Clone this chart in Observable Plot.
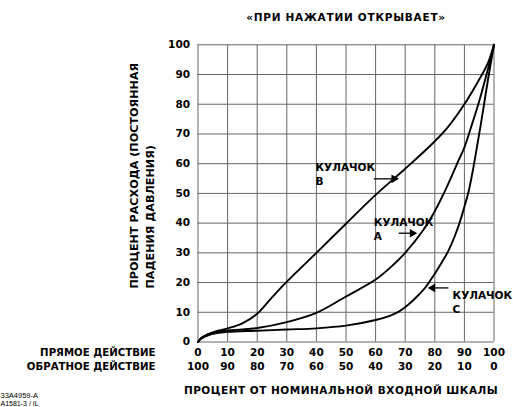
<!DOCTYPE html>
<html>
<head>
<meta charset="utf-8">
<script src="https://cdn.jsdelivr.net/npm/d3@7"></script>
<script src="https://cdn.jsdelivr.net/npm/@observablehq/plot@0.6"></script>
<style>
  body { margin: 0; background: white; }
</style>
</head>
<body>
<div id="chart"></div>
<script>
// ---- data ----
const camBx = [0, 1, 3, 6, 10, 15, 20, 25, 30, 40, 50, 60, 70, 78, 84, 90, 95, 98, 100];
const camBy = [0, 1.3, 2.5, 3.6, 4.6, 6.3, 9.5, 15, 20.3, 30, 39.8, 49.5, 58.3, 65.6, 71.8, 80, 88.3, 94, 100];

const camAx = [0, 1, 3, 6, 10, 15, 20, 30, 40, 50, 60, 66, 70, 76, 80, 84, 88, 90, 92, 95, 98, 100];
const camAy = [0, 1.2, 2.3, 3.3, 3.9, 4.2, 4.7, 6.7, 9.8, 15.3, 21, 26, 30, 37.5, 44, 52, 61, 65.5, 71.5, 81, 92, 100];

const camCx = [0, 1, 3, 6, 10, 20, 30, 40, 50, 60, 65, 68, 71, 74, 77, 80, 82.5, 84.5, 86.5, 88.5, 90, 91.5, 93, 94.3, 95.5, 96.8, 98, 100];
const camCy = [0, 1.1, 2.1, 2.9, 3.4, 3.8, 4.2, 4.6, 5.5, 7.4, 8.9, 10.3, 12.5, 15.3, 18.6, 23, 27, 30.5, 35, 40.5, 45.5, 51, 58.5, 66, 73, 81, 88.5, 100];

const xTicks = [0, 10, 20, 30, 40, 50, 60, 70, 80, 90, 100];
const yTicks = [0, 10, 20, 30, 40, 50, 60, 70, 80, 90, 100];
const reverseTickLabels = ["100", "90", "80", "70", "60", "50", "40", "30", "20", "10", "0"];

// cam labels (data units)
const camNames = ["КУЛАЧОК\nB", "КУЛАЧОК\nA", "КУЛАЧОК\nC"];
const camLabelX = [39.7, 59.4, 86.0];
const camLabelY = [60.9, 42.4, 17.9];
// arrows (data units): tail x, tip x, y
const arrowTail = [59.4, 67.8, 84.6];
const arrowTip = [67.3, 73.5, 78.2];
const arrowY = [54.9, 36.6, 18.2];

const titleText = "«ПРИ НАЖАТИИ ОТКРЫВАЕТ»";
const xTitle = "ПРОЦЕНТ ОТ НОМИНАЛЬНОЙ ВХОДНОЙ ШКАЛЫ";
const yTitle1 = "ПРОЦЕНТ РАСХОДА (ПОСТОЯННАЯ";
const yTitle2 = "ПАДЕНИЯ ДАВЛЕНИЯ)";
const directLabel = "ПРЯМОЕ ДЕЙСТВИЕ";
const reverseLabel = "ОБРАТНОЕ ДЕЙСТВИЕ";
const note1 = "33A4959-A";
const note2 = "A1581-3 / IL";

// ---- build table ----
const curves = [
  ...camBx.map((x, i) => ({cam: "B", x, y: camBy[i]})),
  ...camAx.map((x, i) => ({cam: "A", x, y: camAy[i]})),
  ...camCx.map((x, i) => ({cam: "C", x, y: camCy[i]}))
];
const labels = camNames.map((t, i) => ({t, x: camLabelX[i], y: camLabelY[i]}));
const arrows = arrowTail.map((x1, i) => ({x1, x2: arrowTip[i], y: arrowY[i], right: arrowTip[i] > x1}));

const font = "DejaVu Sans";

const chart = Plot.plot({
  width: 513,
  height: 407,
  marginLeft: 197.5,
  marginRight: 19.5,
  marginTop: 44.3,
  marginBottom: 65.5,
  x: {domain: [0, 100]},
  y: {domain: [0, 100]},
  style: {fontFamily: font, background: "white", color: "black", overflow: "visible"},
  marks: [
    Plot.gridX(xTicks, {stroke: "#666", strokeOpacity: 1, strokeWidth: 1}),
    Plot.gridY(yTicks, {stroke: "#666", strokeOpacity: 1, strokeWidth: 1}),
    Plot.axisX(xTicks, {tickSize: 0, tickPadding: 7, label: null, fontSize: 10.5, fontWeight: "bold", tickFormat: d => String(d)}),
    Plot.axisY(yTicks, {tickSize: 0, tickPadding: 8, label: null, fontSize: 10.5, fontWeight: "bold", tickFormat: d => String(d)}),
    Plot.text(xTicks, {x: d => d, text: (d, i) => reverseTickLabels[i], frameAnchor: "bottom", lineAnchor: "top", dy: 20.5, fontSize: 10.5, fontWeight: "bold"}),
    Plot.line(curves, {x: "x", y: "y", z: "cam", stroke: "black", strokeWidth: 1.9, curve: "catmull-rom"}),
    Plot.link(arrows, {x1: "x1", x2: "x2", y1: "y", y2: "y", stroke: "black", strokeWidth: 1.3}),
    Plot.dot(arrows, {x: d => d.x2 + (d.right ? -1.1 : 1.1), y: "y", symbol: "triangle", rotate: d => d.right ? 90 : -90, r: 3.2, fill: "black", stroke: "none"}),
    Plot.text(labels, {x: "x", y: "y", text: "t", textAnchor: "start", lineAnchor: "top", lineHeight: 1.35, fontSize: 10.5, fontWeight: "bold"}),
    Plot.text([titleText], {frameAnchor: "top", lineAnchor: "top", dy: -31.6, fontSize: 10.5, fontWeight: "bold"}),
    Plot.text([xTitle], {frameAnchor: "bottom", lineAnchor: "top", dx: -5, dy: 45, fontSize: 10.5, fontWeight: "bold"}),
    Plot.text([yTitle1], {frameAnchor: "bottom-left", rotate: -90, textAnchor: "start", lineAnchor: "middle", dx: -63.5, dy: -53.5, fontSize: 11.2, fontWeight: "bold"}),
    Plot.text([yTitle2], {frameAnchor: "bottom-left", rotate: -90, textAnchor: "start", lineAnchor: "middle", dx: -47.5, dy: -53.5, fontSize: 11.2, fontWeight: "bold"}),
    Plot.text([directLabel], {frameAnchor: "bottom-left", textAnchor: "end", lineAnchor: "top", dx: -42.5, dy: 7, fontSize: 10.2, fontWeight: "bold"}),
    Plot.text([reverseLabel], {frameAnchor: "bottom-left", textAnchor: "end", lineAnchor: "top", dx: -42.5, dy: 20.5, fontSize: 10.2, fontWeight: "bold"}),
    Plot.text([note1], {frameAnchor: "bottom-left", textAnchor: "start", lineAnchor: "top", dx: -197.5, dy: 50.5, fontSize: 7.5, fontFamily: "Liberation Sans"}),
    Plot.text([note2], {frameAnchor: "bottom-left", textAnchor: "start", lineAnchor: "top", dx: -197.5, dy: 58.6, fontSize: 7, fontFamily: "Liberation Sans"})
  ]
});
// widen the two wide-set headings slightly (letter spacing only)
d3.select(chart).selectAll("text")
  .filter(function () { return this.textContent === titleText; })
  .attr("letter-spacing", "0.75");
d3.select(chart).selectAll("text")
  .filter(function () { return this.textContent === xTitle; })
  .attr("letter-spacing", "0.5");
document.getElementById("chart").appendChild(chart);
</script>
</body>
</html>
